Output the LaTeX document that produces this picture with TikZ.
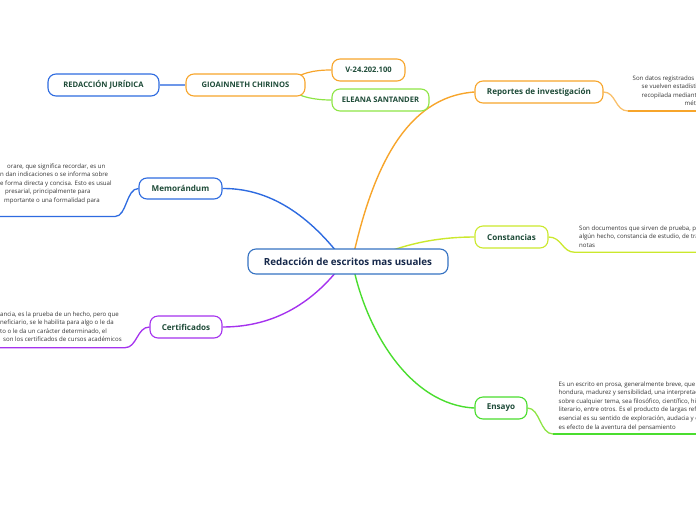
\documentclass[tikz,border=0pt]{standalone}
\usepackage{fontspec}
\setmainfont{Open Sans}
\usetikzlibrary{backgrounds}
\definecolor{cblue}{HTML}{2E6BE0}
\definecolor{ccentral}{HTML}{3572C2}
\definecolor{corange}{HTML}{F7A52B}
\definecolor{cyellow}{HTML}{CBE82C}
\definecolor{cgreen}{HTML}{4ADD2E}
\definecolor{cgreenl}{HTML}{8EE545}
\definecolor{cpurple}{HTML}{A532EE}
\definecolor{nodegreen}{HTML}{1E4B38}
\definecolor{navy}{HTML}{16284A}
\definecolor{desctext}{HTML}{333333}
\begin{document}
\begin{tikzpicture}[x=1pt,y=-1pt,
  box/.style={draw, rounded corners=8pt, line width=1.1pt, fill=white, inner sep=0pt,
    minimum height=22, font=\bfseries\fontsize{8.1}{9}\selectfont, text=nodegreen},
  capbox/.style={box, font=\bfseries\fontsize{7.6}{9}\selectfont},
  desc/.style={inner sep=0pt, align=left, anchor=north west,
    font=\fontsize{6.1}{8.6}\selectfont, text=desctext},
  branch/.style={line width=1.4pt},
  uline/.style={line width=1.3pt},
]
\useasboundingbox (0,0) rectangle (696,520);

% nodes
\node[box, draw=ccentral, minimum width=200, minimum height=25, text=navy,
  font=\bfseries\fontsize{9.8}{11}\selectfont] (central) at (348,261.5) {Redacción de escritos mas usuales};
\node[box, draw=corange, minimum width=128] (rep) at (539,92) {Reportes de investigación};
\node[box, draw=cyellow, minimum width=73] (const) at (511.5,237) {Constancias};
\node[box, draw=cgreen, minimum width=52] (ens) at (501,408) {Ensayo};
\node[box, draw=cblue, minimum width=83, minimum height=21] (mem) at (180.5,188.5) {Memorándum};
\node[box, draw=cpurple, minimum width=72] (cert) at (186,327) {Certificados};
\node[capbox, draw=cblue, minimum width=111] (redj) at (103.5,85) {REDACCIÓN JURÍDICA};
\node[capbox, draw=corange, minimum width=119] (gio) at (245.5,85) {GIOAINNETH CHIRINOS};
\node[capbox, draw=corange, minimum width=73] (v24) at (368.5,70) {V-24.202.100};
\node[capbox, draw=cgreenl, minimum width=97] (ele) at (380.5,100) {ELEANA SANTANDER};

% descriptions
\node[desc] (memtxt) at (0,163.3) {\hspace*{7pt}orare, que significa recordar, es un\\
n dan indicaciones o se informa sobre\\
e forma directa y concisa. Esto es usual\\
\hspace*{5pt}presarial, principalmente para\\
\hspace*{4pt}mportante o una formalidad para};
\node[desc] (certtxt) at (0,311.3) {ancia, es la prueba de un hecho, pero que\\
neficiario, se le habilita para algo o le da\\
to o le da un carácter determinado, el\\
\hspace*{3pt}son los certificados de cursos académicos};
\node[desc] (reptxt) at (632.5,75.3) {Son datos registrados\\
\hspace*{9pt}se vuelven estadísti\\
\hspace*{9pt}recopilada mediant\\
\hspace*{52pt}mét};
\node[desc] (consttxt) at (579,225.3) {Son documentos que sirven de prueba, pa\\
algún hecho, constancia de estudio, de tra\\
notas};
\node[desc] (enstxt) at (558.5,381.3) {Es un escrito en prosa, generalmente breve, que \\
hondura, madurez y sensibilidad, una interpretaci\\
sobre cualquier tema, sea filosófico, científico, his\\
literario, entre otros. Es el producto de largas refl\\
esencial es su sentido de exploración, audacia y o\\
es efecto de la aventura del pensamiento};

% free ends of underlines
\coordinate (memA) at (115,216.5);
\coordinate (memB) at (0,216.5);
\coordinate (certA) at (125,347.7);
\coordinate (certB) at (0,347.7);
\coordinate (repA) at (628,111);
\coordinate (repB) at (696,111);
\coordinate (constA) at (575,252.3);
\coordinate (constB) at (696,252.3);
\coordinate (ensA) at (553,434);
\coordinate (ensB) at (696,434);

\begin{scope}[on background layer]
  \draw[branch, corange] ([xshift=4]central.center) .. controls (372,170) and (405,97) .. (rep.west);
  \draw[branch, cblue] ([xshift=-3,yshift=-1]central.center) .. controls (315,222) and (275,188) .. (mem.east);
  \draw[branch, cpurple] ([xshift=-3,yshift=1]central.center) .. controls (315,302) and (275,327) .. (cert.east);
  \draw[branch, cgreen] ([xshift=4,yshift=1]central.center) .. controls (365,330) and (410,405) .. (ens.west);
  \draw[branch, cyellow] ([xshift=12,yshift=-3]central.center) .. controls (400,243) and (440,237) .. (const.west);
  \draw[line width=1.6pt, cblue!70] (redj.east) -- (gio.west);
  \draw[line width=1.2pt, corange] ([xshift=40]gio.center) .. controls (300,72) and (315,70) .. (v24.west);
  \draw[line width=1.2pt, cgreenl] ([xshift=40]gio.center) .. controls (295,97) and (315,100) .. (ele.west);
  % description connectors
  \draw[uline, cblue] (mem.west) .. controls (126,188.5) and (127,216.5) .. (memA) -- (memB);
  \draw[uline, cpurple] (cert.west) .. controls (137,327) and (137,347.7) .. (certA) -- (certB);
  \draw[uline, corange!70] (rep.east) .. controls (616,92) and (615,111) .. (repA);
  \draw[uline, corange] (repA) -- (repB);
  \draw[uline, cyellow] (const.east) .. controls (562,237) and (562,252.3) .. (constA) -- (constB);
  \draw[uline, cgreenl] (ens.east) .. controls (540,408) and (540,434) .. (ensA);
  \draw[uline, cgreen] (ensA) -- (ensB);
\end{scope}
\end{tikzpicture}
\end{document}
